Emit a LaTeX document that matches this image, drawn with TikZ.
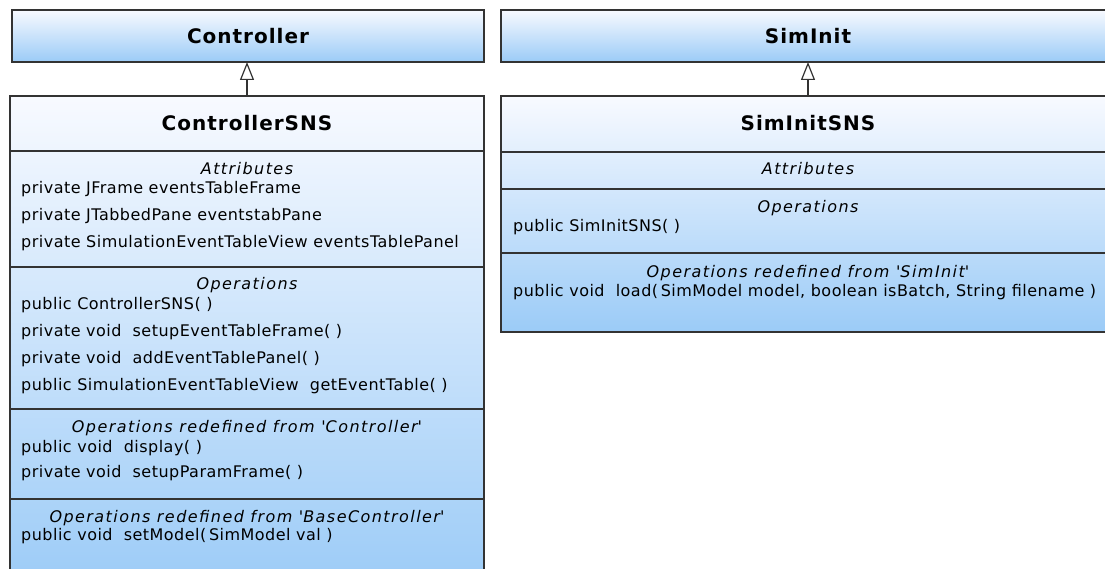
\documentclass[tikz,border=0pt]{standalone}
\usepackage{fontspec}
\setmainfont{DejaVu Sans}
\newfontfamily\memberfont{DejaVu Sans}[LetterSpace=3]
\newfontfamily\sectionfont{DejaVu Sans}[LetterSpace=9]
\newfontfamily\namefont{DejaVu Sans}[LetterSpace=5]
\usetikzlibrary{arrows.meta}
\definecolor{umltop}{HTML}{F8FAFF}
\definecolor{umlbot}{HTML}{9BCBF7}
\definecolor{umlline}{HTML}{333333}
\tikzset{
  umlbox/.style={draw=umlline, line width=1.5pt, top color=umltop, bottom color=umlbot,
    anchor=north west, inner sep=0pt, outer sep=0pt},
  divider/.style={draw=umlline, line width=1.5pt},
  classname/.style={font=\namefont\bfseries\fontsize{20}{20}\selectfont, anchor=base, inner sep=0pt},
  section/.style={font=\sectionfont\itshape\fontsize{16}{16}\selectfont, anchor=base, inner sep=0pt},
  member/.style={font=\memberfont\fontsize{16}{16}\selectfont, anchor=base west, inner sep=0pt},
  inherit/.style={draw=umlline, line width=1.2pt,
    -{Triangle[open, fill=white, length=18pt, width=14pt, line width=1.2pt]}}
}
\begin{document}
\begin{tikzpicture}[x=1pt, y=-1pt]
\useasboundingbox (0,0) rectangle (1105,569);
\clip (0,0) rectangle (1105,569);

% ---------------- Controller / ControllerSNS ----------------
\node[umlbox, minimum width=472pt, minimum height=52pt] (ctrl) at (12,10) {};
\node[classname] (ctrlname) at (ctrl.center |- 0,44) {Controller};

\node[umlbox, minimum width=474pt, minimum height=495pt] (csns) at (10,96) {};
\node[classname] (csnsname) at (csns.north |- 0,131) {ControllerSNS};

\draw[divider] (csns.west |- 0,151) -- (csns.east |- 0,151);
\draw[divider] (csns.west |- 0,267) -- (csns.east |- 0,267);
\draw[divider] (csns.west |- 0,409) -- (csns.east |- 0,409);
\draw[divider] (csns.west |- 0,499) -- (csns.east |- 0,499);

\node[section] (cattr) at (csns.north |- 0,175) {Attributes};
\node[member] (ca1) at (21,194) {private JFrame eventsTableFrame};
\node[member] (ca2) at (21,221) {private JTabbedPane eventstabPane};
\node[member] (ca3) at (21,248) {private SimulationEventTableView eventsTablePanel};

\node[section] (cops) at (csns.north |- 0,290) {Operations};
\node[member] (co1) at (21,309) {public ControllerSNS(~)};
\node[member] (co2) at (21,336) {private void~ setupEventTableFrame(~)};
\node[member] (co3) at (21,363) {private void~ addEventTablePanel(~)};
\node[member] (co4) at (21,390) {public SimulationEventTableView~ getEventTable(~)};

\node[section] (cred1) at (csns.north |- 0,432) {Operations redefined from \textquotesingle Controller\textquotesingle};
\node[member] (cr1) at (21,452) {public void~ display(~)};
\node[member] (cr2) at (21,477) {private void~ setupParamFrame(~)};

\node[section] (cred2) at (csns.north |- 0,522) {Operations redefined from \textquotesingle BaseController\textquotesingle};
\node[member] (cr3) at (21,540) {public void~ setModel(\,SimModel val~)};

\draw[inherit] (csns.north) -- (csns.north |- ctrl.south);

% ---------------- SimInit / SimInitSNS ----------------
\node[umlbox, minimum width=614pt, minimum height=52pt] (sim) at (501,10) {};
\node[classname] (simname) at (sim.center |- 0,44) {SimInit};

\node[umlbox, minimum width=614pt, minimum height=236pt] (ssns) at (501,96) {};
\node[classname] (ssnsname) at (ssns.north |- 0,131) {SimInitSNS};

\draw[divider] (ssns.west |- 0,152) -- (ssns.east |- 0,152);
\draw[divider] (ssns.west |- 0,189) -- (ssns.east |- 0,189);
\draw[divider] (ssns.west |- 0,253) -- (ssns.east |- 0,253);

\node[section] (sattr) at (ssns.north |- 0,175) {Attributes};
\node[section] (sops) at (ssns.north |- 0,213) {Operations};
\node[member] (so1) at (513,232) {public SimInitSNS(~)};
\node[section] (sred) at (ssns.north |- 0,277) {Operations redefined from \textquotesingle SimInit\textquotesingle};
\node[member] (sr1) at (513,296) {public void~ load(\,SimModel model, boolean isBatch, String filename~)};

\draw[inherit] (ssns.north) -- (ssns.north |- sim.south);
\end{tikzpicture}
\end{document}
